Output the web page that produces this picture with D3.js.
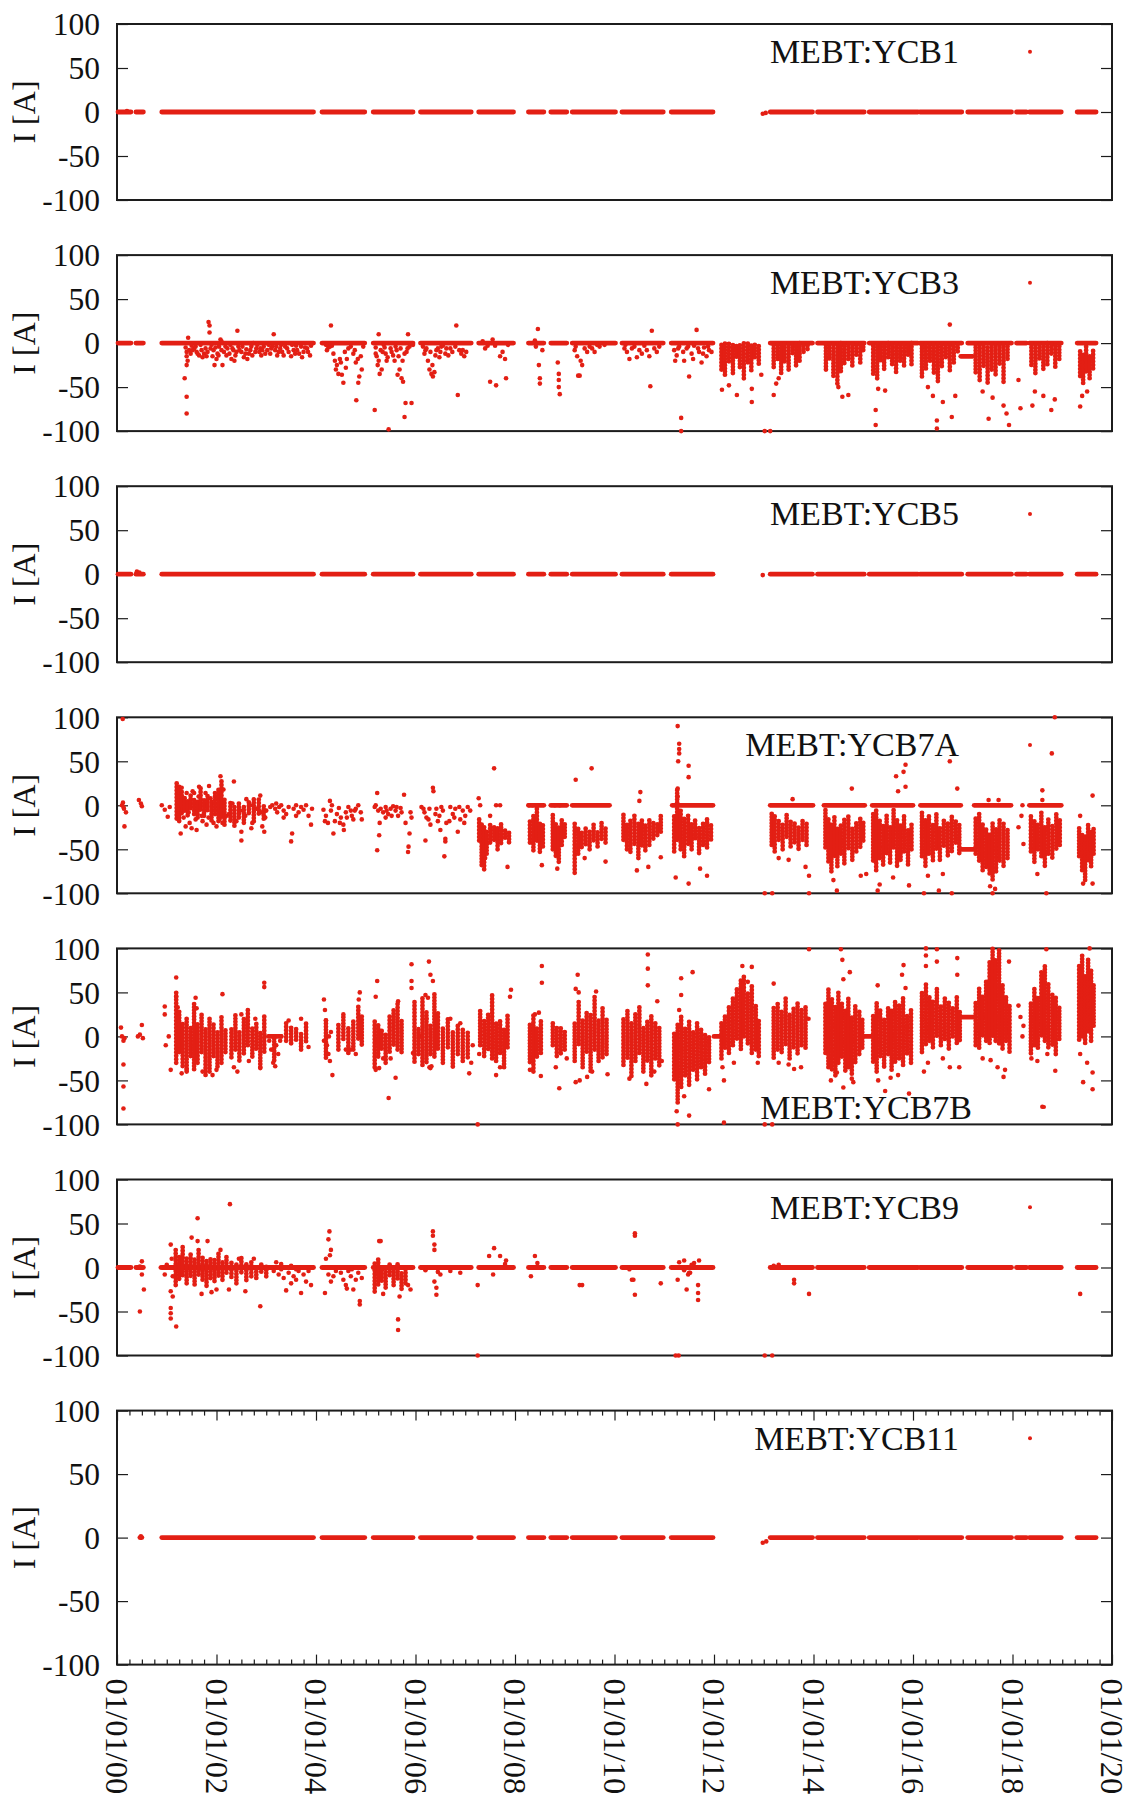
<!DOCTYPE html>
<html>
<head>
<meta charset="utf-8">
<script src="https://cdn.jsdelivr.net/npm/d3@7"></script>
<style>
  html, body { margin: 0; padding: 0; background: #fff; }
  svg { display: block; }
</style>
</head>
<body>
<svg id="chart" width="1131" height="1804"></svg>
<script>
// Corrector magnet readbacks, 2000-2020. Times are years after 2000-01-01, currents in A.

const tickLabels = ["01/01/00", "01/01/02", "01/01/04", "01/01/06", "01/01/08", "01/01/10",
                    "01/01/12", "01/01/14", "01/01/16", "01/01/18", "01/01/20"];
const yTicks = [100, 50, 0, -50, -100];
const channels = ["MEBT:YCB1", "MEBT:YCB3", "MEBT:YCB5", "MEBT:YCB7A", "MEBT:YCB7B", "MEBT:YCB9", "MEBT:YCB11"];

// Running periods where the readback sits flat at 0 A: [start, end]
const baseRuns = [[0.02,0.28],[0.38,0.53],[0.9,3.95],[4.12,4.98],[5.15,5.95],[6.1,7.12],[7.27,7.97],
  [8.27,8.58],[8.72,9.04],[9.15,10.02],[10.15,10.98],[11.14,11.98],[13.13,13.98],[14.08,15.02],
  [15.12,16.1],[16.14,16.98],[17.1,17.98],[18.08,18.28],[18.34,18.98],[19.3,19.68]];
const ycb11Runs = [[0.46,0.5],[0.9,3.95],[4.12,4.98],[5.15,5.95],[6.1,7.12],[7.27,7.97],
  [8.27,8.58],[8.72,9.04],[9.15,10.02],[10.15,10.98],[11.14,11.98],[13.13,13.98],[14.08,15.02],
  [15.12,16.1],[16.14,16.98],[17.1,17.98],[18.08,18.28],[18.34,18.98],[19.3,19.68]];
// Flat stretches at a given level: [start, end, current]
const ycb3Flat = [[16.96,17.2,-15]];
const ycb7aFlat = [[8.27,8.58,0],[8.72,9.04,0],[9.15,9.9,0],[11.16,11.98,0],[13.13,13.99,0],
  [14.21,15.03,0],[15.18,16.0,0],[16.15,16.96,0],[16.96,17.22,-50],[17.23,17.97,0],[18.34,18.98,0]];
const ycb7bFlat = [[12.0,12.15,0],[14.95,15.2,0],[16.96,17.22,22],[3.04,3.3,0]];

// Dense stretches: [time, lowest, highest] of the overlapping samples
const ycb3Bands = [
  [12.15,-30,0],[12.22,-38,0],[12.3,-22,0],[12.38,-34,0],[12.45,-18,0],[12.52,-28,0],[12.6,-40,0],[12.68,-24,0],[12.75,-32,0],[12.82,-16,0],[12.9,-26,0],
  [13.2,-28,0],[13.28,-18,0],[13.35,-36,0],[13.42,-22,0],[13.5,-30,0],[13.58,-14,0],[13.65,-26,0],[13.72,-20,0],[13.8,-12,0],[13.88,-8,0],
  [14.25,-30,0],[14.32,-20,0],[14.4,-38,0],[14.48,-46,0],[14.55,-34,0],[14.62,-24,0],[14.7,-18,0],[14.78,-28,0],[14.86,-14,0],[14.94,-22,0],[15.0,-10,0],
  [15.2,-36,0],[15.28,-40,0],[15.35,-22,0],[15.42,-30,0],[15.5,-16,0],[15.58,-26,0],[15.66,-34,0],[15.74,-20,0],[15.82,-28,0],[15.9,-14,0],[15.97,-24,0],
  [16.18,-40,0],[16.26,-30,0],[16.34,-20,0],[16.42,-36,0],[16.5,-44,0],[16.58,-26,0],[16.66,-18,0],[16.74,-32,0],[16.82,-22,0],[16.9,-12,0],
  [17.26,-34,0],[17.34,-42,0],[17.42,-28,0],[17.5,-46,-4],[17.58,-30,0],[17.66,-38,0],[17.74,-24,0],[17.82,-44,0],[17.9,-20,0],
  [18.38,-26,0],[18.46,-34,0],[18.54,-20,0],[18.62,-30,0],[18.7,-24,0],[18.78,-14,0],[18.86,-28,0],[18.94,-18,0],
  [19.36,-40,-6],[19.42,-46,-10],[19.48,-32,-4],[19.55,-42,-14],[19.62,-30,-8]
];
const ycb7aBands = [
  [1.2,-15,28],[1.25,-20,24],[1.3,-10,16],[1.36,-6,10],[1.42,-14,6],[1.48,-4,12],[1.55,-10,8],[1.62,-16,6],[1.68,-6,20],[1.75,-12,8],[1.82,-8,12],[1.9,-18,4],[1.97,-10,16],[2.04,-20,20],[2.1,-14,30],[2.16,-22,8],
  [2.28,-20,6],[2.36,-24,0],[2.45,-14,4],[2.55,-22,-2],[2.65,-10,6],[2.75,-18,10],[2.85,-12,8],[2.95,-16,2],
  [7.28,-40,-15],[7.33,-70,-20],[7.38,-74,-25],[7.43,-55,-30],[7.5,-45,-20],[7.58,-40,-25],[7.65,-50,-25],[7.72,-45,-20],[7.8,-38,-28],[7.88,-42,-30],
  [8.3,-45,-15],[8.37,-52,-10],[8.44,-40,0],[8.5,-55,-20],[8.56,-48,-22],
  [8.76,-50,-10],[8.82,-60,-20],[8.88,-65,-25],[8.94,-45,-15],[9.0,-38,-20],
  [9.2,-78,-20],[9.27,-55,-25],[9.34,-50,-30],[9.42,-45,-25],[9.5,-50,-30],[9.58,-42,-22],[9.66,-48,-28],[9.74,-38,-20],[9.82,-45,-25],
  [10.18,-40,-10],[10.25,-50,-20],[10.32,-55,-15],[10.4,-45,-10],[10.48,-60,-20],[10.55,-48,-15],[10.62,-52,-22],[10.7,-45,-15],[10.78,-40,-20],[10.86,-35,-18],[10.93,-30,-12],
  [11.2,-55,-10],[11.26,-40,20],[11.33,-50,-5],[11.4,-60,-15],[11.48,-45,-10],[11.55,-50,-20],[11.62,-40,-15],[11.7,-55,-25],[11.78,-45,-20],[11.86,-50,-15],[11.94,-40,-20],
  [13.16,-45,-8],[13.22,-55,-10],[13.3,-40,-15],[13.38,-50,-20],[13.46,-38,-10],[13.54,-48,-15],[13.62,-42,-20],[13.7,-52,-25],[13.78,-40,-15],[13.86,-45,-20],
  [14.24,-50,-5],[14.3,-65,-15],[14.36,-75,-20],[14.42,-60,-10],[14.48,-70,-25],[14.55,-55,-20],[14.62,-68,-15],[14.7,-50,-10],[14.78,-62,-25],[14.86,-55,-20],[14.94,-48,-15],[15.0,-40,-20],
  [15.2,-65,-10],[15.26,-75,-5],[15.33,-60,-15],[15.4,-70,-20],[15.47,-55,-10],[15.54,-65,-25],[15.61,-50,-5],[15.68,-70,-15],[15.75,-62,-20],[15.82,-55,-10],[15.9,-68,-25],[15.97,-50,-20],
  [16.18,-60,-5],[16.25,-70,-15],[16.32,-55,-10],[16.4,-65,-20],[16.47,-50,-10],[16.54,-62,-25],[16.62,-48,-15],[16.7,-58,-20],[16.78,-52,-10],[16.86,-45,-15],[16.93,-55,-20],
  [17.26,-55,-15],[17.33,-65,-10],[17.4,-75,-20],[17.47,-70,-25],[17.54,-80,-30],[17.6,-85,-20],[17.67,-75,-25],[17.74,-65,-15],[17.82,-70,-20],[17.9,-60,-25],
  [18.37,-55,-10],[18.44,-65,-15],[18.51,-50,-20],[18.58,-60,-5],[18.65,-70,-25],[18.72,-55,-15],[18.8,-62,-20],[18.88,-50,-10],[18.95,-45,-15],
  [19.34,-60,-25],[19.4,-75,-30],[19.46,-85,-35],[19.52,-65,-20],[19.58,-70,-30],[19.63,-55,-25]
];
const ycb7bBands = [
  [1.19,-30,50],[1.25,-20,30],[1.32,-35,15],[1.4,-40,20],[1.48,-25,10],[1.55,-38,40],[1.62,-30,15],[1.7,-20,25],[1.78,-45,10],[1.86,-40,20],[1.94,-25,15],[2.02,-35,5],[2.1,-30,25],[2.18,-20,10],
  [2.3,-25,10],[2.38,-15,25],[2.46,-30,5],[2.55,-20,20],[2.63,-10,32],[2.72,-25,10],[2.8,-15,15],[2.88,-35,5],[2.96,-20,25],
  [3.16,-28,-2],[3.4,-5,15],[3.5,-10,10],[3.6,-5,12],[3.7,-15,5],[3.8,-8,18],[4.2,-25,20],
  [4.45,-15,15],[4.55,-5,25],[4.65,-20,10],[4.75,-15,20],[4.85,-5,35],[4.92,-10,25],
  [5.18,-35,20],[5.25,-25,15],[5.32,-15,10],[5.4,-30,5],[5.48,-20,25],[5.56,-10,30],[5.64,-15,40],[5.72,-20,20],
  [5.98,-30,40],[6.06,-20,10],[6.14,-35,45],[6.22,-30,30],[6.3,-20,15],[6.38,-25,48],[6.45,-15,30],
  [6.55,-30,10],[6.65,-15,20],[6.75,-35,5],[6.85,-20,15],[6.95,-30,10],[7.05,-25,5],
  [7.3,-10,30],[7.38,-25,20],[7.46,-15,25],[7.54,-25,47],[7.62,-30,15],[7.7,-20,20],[7.78,-35,10],[7.85,-15,25],
  [8.3,-30,15],[8.37,-40,25],[8.44,-25,10],[8.52,-20,20],
  [8.76,-10,15],[8.84,-25,10],[8.92,-20,12],[9.0,-15,8],
  [9.2,-30,15],[9.28,-10,40],[9.36,-35,20],[9.44,-20,30],[9.52,-40,25],[9.6,-15,45],[9.68,-30,20],[9.76,-25,35],[9.84,-20,20],
  [10.18,-35,20],[10.26,-25,30],[10.34,-45,15],[10.42,-30,25],[10.5,-20,35],[10.58,-40,10],[10.66,-30,20],[10.74,-45,25],[10.82,-25,15],[10.9,-35,10],
  [11.2,-50,5],[11.27,-75,15],[11.34,-60,25],[11.42,-45,10],[11.5,-55,20],[11.58,-40,5],[11.66,-50,15],[11.74,-35,10],[11.82,-45,5],[11.9,-30,0],
  [12.15,-25,15],[12.22,-15,25],[12.3,-20,35],[12.38,-10,45],[12.46,-5,55],[12.54,-15,65],[12.6,0,70],[12.68,-10,50],[12.76,-20,60],[12.84,-15,35],[12.9,-25,20],
  [13.2,-25,35],[13.28,-15,40],[13.36,-20,30],[13.44,-10,45],[13.52,-25,25],[13.6,-15,35],[13.68,-20,40],[13.76,-10,30],[13.84,-15,35],
  [14.24,-20,40],[14.3,-35,55],[14.37,-40,45],[14.44,-45,35],[14.5,-30,50],[14.57,-25,40],[14.64,-40,30],[14.7,-35,45],[14.77,-45,25],[14.84,-30,35],[14.92,-20,30],[14.98,-15,20],
  [15.2,-30,25],[15.27,-40,40],[15.34,-25,30],[15.42,-35,20],[15.5,-20,35],[15.57,-40,30],[15.64,-30,40],[15.72,-25,35],[15.8,-35,45],[15.88,-20,25],[15.96,-30,30],
  [16.18,-20,50],[16.26,-10,60],[16.33,-5,45],[16.4,-15,40],[16.48,0,55],[16.56,-10,35],[16.64,-5,45],[16.72,-15,40],[16.8,0,35],[16.88,-10,45],[16.94,-5,30],
  [17.26,-10,40],[17.33,-15,55],[17.4,0,45],[17.47,-5,65],[17.54,-10,85],[17.6,0,100],[17.66,-5,90],[17.73,-10,100],[17.8,-15,60],[17.87,-5,45],[17.94,-20,35],
  [18.37,-20,40],[18.44,-10,55],[18.51,-15,45],[18.58,0,75],[18.65,-5,80],[18.72,-15,60],[18.8,-10,50],[18.87,-20,45],[18.94,-5,35],
  [19.34,-5,80],[19.4,0,95],[19.46,-10,70],[19.52,5,90],[19.58,-5,75],[19.63,10,60]
];
const ycb9Bands = [
  [1.18,-20,20],[1.25,-15,15],[1.32,-10,25],[1.4,-18,12],[1.48,-12,18],[1.56,-20,10],[1.64,-8,22],[1.72,-16,14],[1.8,-22,8],[1.88,-12,12],[1.96,-18,10],[2.04,-10,16],[2.12,-14,8],[2.2,-8,12],
  [2.3,-12,8],[2.4,-18,6],[2.5,-8,12],[2.6,-15,4],[2.7,-10,8],[2.8,-14,2],[2.9,-6,6],[3.0,-10,4],
  [5.18,-30,5],[5.25,-20,10],[5.32,-15,0],[5.4,-25,-5],[5.48,-10,5],[5.56,-20,0],[5.64,-15,5],[5.72,-25,-5],[5.8,-18,0]
];

// Individual samples: [time, current]
const ycb1Dots = [[12.98,-2],[13.04,-1],[0.2,1]];
const ycb5Dots = [[0.4,3],[0.45,2],[12.98,-1]];
const ycb11Dots = [[12.98,-4],[13.05,-3],[0.48,1]];
const ycb3Dots = [
  [1.38,-5],[1.4,-10],[1.4,-15],[1.42,-20],[1.4,-25],[1.36,-40],[1.4,-61],[1.4,-80],[1.43,6],[1.45,-8],[1.48,-12],[1.5,-3],
  [1.55,-6],[1.6,-10],[1.65,-14],[1.7,-8],[1.75,-12],[1.8,-15],[1.84,24],[1.86,20],[1.86,12],[1.88,-6],[1.92,-15],[1.96,-25],[2.0,-18],[2.02,-12],[2.05,-4],[2.08,4],[2.1,2],[2.12,-25],[2.15,-10],
  [2.22,-6],[2.26,-12],[2.3,-18],[2.34,-8],[2.38,-14],[2.42,14],[2.44,-4],[2.5,-10],[2.55,-16],[2.6,-7],[2.65,-12],[2.7,-4],[2.74,0],[2.8,-6],[2.86,-10],[2.9,-14],[2.95,-4],
  [3.05,-2],[3.1,-6],[3.15,10],[3.2,-4],[3.25,-10],[3.3,-2],[3.35,-14],[3.42,-6],[3.5,-15],[3.55,-8],[3.6,-3],[3.66,-12],[3.72,-16],[3.78,-5],[3.84,-10],[3.9,-3],
  [1.52,-8],[1.58,-4],[1.62,-12],[1.68,-2],[1.72,-16],[1.78,-6],[1.82,-10],[1.9,-2],[1.94,-8],[1.98,-5],[2.04,-14],[2.1,-8],[2.18,-4],[2.2,-14],[2.28,-2],[2.32,-6],[2.36,-20],[2.4,-10],[2.46,-8],[2.52,-4],[2.58,-12],[2.62,-18],[2.68,-8],[2.72,-14],[2.78,-10],[2.82,-2],[2.88,-6],[2.92,-8],[2.98,-12],
  [3.02,-8],[3.08,-12],[3.12,-4],[3.18,-8],[3.22,-14],[3.28,-6],[3.32,-10],[3.38,-4],[3.45,-10],[3.52,-2],[3.58,-12],[3.62,-8],[3.7,-4],[3.75,-10],[3.82,-6],[3.88,-14],
  [4.2,-2],[4.25,-5],[4.3,20],[4.32,-3],[4.38,-20],[4.42,-25],[4.45,-35],[4.5,-22],[4.55,-45],[4.6,-28],[4.62,-18],[4.7,-4],[4.75,-12],[4.8,-22],[4.81,-65],[4.85,-45],[4.87,-38],[4.9,-15],[4.92,-30],
  [4.22,-8],[4.28,-4],[4.35,-12],[4.4,-30],[4.48,-18],[4.52,-36],[4.58,-10],[4.65,-6],[4.78,-8],[4.84,-18],[4.95,-4],
  [5.18,-76],[5.2,-5],[5.22,-15],[5.24,-25],[5.26,10],[5.3,-8],[5.32,-30],[5.36,-2],[5.4,-12],[5.42,-20],[5.46,-98],[5.5,-6],[5.55,-14],[5.6,-4],[5.64,-36],[5.68,-30],[5.72,-40],[5.75,-44],[5.78,-84],[5.8,-68],[5.82,-10],[5.85,10],[5.88,-4],[5.92,-68],[5.95,-2],
  [5.2,-12],[5.26,-20],[5.28,-35],[5.34,-10],[5.38,-5],[5.44,-16],[5.52,-10],[5.58,-20],[5.62,-8],[5.66,-15],[5.7,-6],[5.74,-20],[5.78,-12],[5.84,-6],
  [6.15,-4],[6.2,-8],[6.25,-20],[6.28,-30],[6.32,-35],[6.35,-38],[6.38,-33],[6.4,-14],[6.45,-6],[6.5,-10],[6.55,-3],[6.6,-12],[6.7,-6],[6.82,20],[6.85,-59],[6.88,-8],[6.92,-12],[6.98,-15],
  [6.18,-12],[6.22,-6],[6.3,-10],[6.34,-25],[6.42,-8],[6.48,-16],[6.52,-4],[6.62,-6],[6.66,-14],[6.74,-10],[6.8,-4],[6.95,-8],[7.02,-10],
  [7.35,2],[7.45,-3],[7.5,-44],[7.55,4],[7.62,-48],[7.7,-15],[7.75,-10],[7.82,-40],[7.86,-2],[7.4,-6],[7.6,-3],[7.8,-18],
  [8.4,3],[8.46,16],[8.48,-25],[8.5,-40],[8.5,-46],[8.42,-4],[8.55,-8],
  [8.86,-22],[8.88,-35],[8.88,-42],[8.88,-50],[8.9,-58],
  [9.2,-8],[9.25,-15],[9.27,-37],[9.3,-37],[9.32,-20],[9.4,-6],[9.5,-4],[9.6,-10],[9.7,-4],[9.8,-2],[9.22,-4],[9.35,-25],[9.45,-10],[9.55,-6],[9.65,-2],
  [10.2,-6],[10.25,-10],[10.3,-18],[10.4,-4],[10.5,-8],[10.55,-12],[10.6,-3],[10.7,-15],[10.72,-49],[10.75,14],[10.8,-6],[10.9,-4],[10.22,-2],[10.35,-6],[10.45,-16],[10.65,-8],[10.85,-10],
  [11.2,-8],[11.25,-14],[11.3,-4],[11.34,-85],[11.34,-100],[11.4,-20],[11.45,-6],[11.5,-38],[11.55,-12],[11.6,-3],[11.65,15],[11.7,-10],[11.75,-22],[11.8,-5],[11.85,-15],[11.9,-8],
  [11.22,-20],[11.28,-6],[11.38,-10],[11.48,-4],[11.58,-18],[11.68,-6],[11.78,-12],[11.88,-4],[11.95,-10],
  [12.16,-53],[12.3,-48],[12.46,-59],[12.76,-52],[12.76,-67],[12.95,-36],[13.02,-100],[13.13,-100],[13.2,-59],[13.25,-46],[13.3,-40],
  [14.58,-61],[14.7,-59],[14.5,-50],[15.25,-76],[15.25,-93],[15.3,-52],[15.44,-54],
  [16.3,-50],[16.4,-60],[16.48,-88],[16.48,-97],[16.6,-67],[16.74,21],[16.78,-84],[16.85,-60],
  [17.4,-55],[17.52,-86],[17.6,-62],[17.82,-71],[17.88,-80],[17.93,-93],[18.12,-42],[18.16,-74],
  [18.4,-71],[18.45,-55],[18.62,-60],[18.78,-76],[18.85,-64],[19.36,-72],[19.4,-60],[19.5,-55]
];
const ycb7aDots = [
  [0.1,0],[0.12,3],[0.14,-4],[0.13,-2],[0.15,-24],[0.115,98],[0.18,-8],[0.44,6],[0.5,-1],[0.48,2],
  [0.9,0],[0.96,-5],[1.02,-13],[1.06,-2],
  [1.28,-32],[1.38,-24],[1.46,-20],[1.5,-26],[1.65,21],[1.6,-28],[1.85,22],[1.8,-22],[2.08,33],[2.0,-24],[2.12,-20],[2.35,27],[1.55,14],[1.72,-18],
  [1.22,10],[1.24,-5],[1.3,20],[1.34,-14],[1.4,14],[1.44,-8],[1.52,16],[1.58,-16],[1.64,10],[1.7,-12],[1.78,14],[1.84,-14],[1.88,8],[1.94,-20],[2.02,10],[2.06,-16],[2.14,18],[2.2,-12],
  [2.5,-40],[2.5,-30],[2.6,7],[2.88,11],[2.96,-30],[2.92,-24],[3.0,-6],[2.7,-26],
  [2.25,-10],[2.32,2],[2.4,-18],[2.48,-6],[2.58,-12],[2.68,0],[2.72,-20],[2.8,-4],[2.9,-8],[2.98,-14],
  [3.08,-2],[3.12,0],[3.18,-4],[3.22,-8],[3.26,-2],[3.3,0],[3.35,-6],[3.4,-10],[3.45,-2],[3.5,-41],[3.52,-32],[3.55,-4],[3.6,0],[3.65,-8],[3.7,-2],[3.75,-5],[3.8,0],[3.85,-12],[3.9,-22],[3.92,-4],[3.35,-14],[3.6,-12],[3.2,2],
  [4.15,-5],[4.2,-12],[4.24,-20],[4.28,5],[4.3,-6],[4.35,-32],[4.38,-18],[4.42,-10],[4.46,-3],[4.5,-14],[4.55,-22],[4.6,-8],[4.65,-2],[4.7,-6],[4.75,-16],[4.8,-4],[4.85,0],[4.9,-8],[4.56,-28],[4.72,-12],
  [4.18,-18],[4.32,0],[4.48,-20],[4.62,-14],[4.78,-6],[4.92,-16],
  [5.18,-2],[5.2,0],[5.23,14],[5.25,-6],[5.23,-51],[5.27,-34],[5.3,-4],[5.35,-8],[5.4,-2],[5.45,-10],[5.5,-4],[5.55,-1],[5.6,-6],[5.65,-12],[5.7,-3],[5.77,12],[5.8,-20],[5.85,-53],[5.86,-47],[5.88,-32],[5.9,-8],[5.4,-14],
  [5.28,-20],[5.42,-6],[5.52,-12],[5.62,-2],[5.72,-8],[5.92,-14],
  [6.12,-2],[6.18,-8],[6.22,-14],[6.28,-4],[6.35,20],[6.36,16],[6.3,-22],[6.4,-10],[6.45,-18],[6.5,-28],[6.55,-6],[6.58,-58],[6.6,-41],[6.6,-38],[6.62,-20],[6.2,-40],
  [6.16,-4],[6.26,-16],[6.42,-4],[6.48,-12],[6.52,-2],[6.68,-18],[6.78,-14],[6.88,-2],[6.98,-20],[7.1,-6],
  [6.7,-2],[6.75,-10],[6.8,-4],[6.85,-30],[6.9,-16],[6.95,-6],[7.0,-12],[7.05,-2],
  [7.27,8],[7.3,0],[7.58,42],[7.62,0],[7.85,-70],[7.7,0],[7.4,-60],[7.5,-12],
  [8.54,-68],[8.28,0],[8.35,0],[8.45,0],[8.8,0],[8.9,0],[8.85,-72],
  [9.22,29],[9.54,42],[9.82,-64],[9.4,-60],
  [10.45,-74],[10.68,-70],[10.93,-59],[10.52,15],[10.5,5],
  [11.27,90],[11.3,70],[11.3,64],[11.3,59],[11.28,50],[11.49,32],[11.49,45],[11.27,19],[11.27,10],[11.23,-82],[11.49,-89],[11.72,-72],[11.86,-80],
  [13.02,-100],[13.17,-100],[13.58,7],[13.91,-100],[13.91,-80],[13.84,-70],[13.3,-60],[13.5,-62],
  [14.77,19],[14.47,-97],[14.95,-80],[15.06,-78],[14.4,-85],
  [15.66,33],[15.85,46],[15.85,21],[15.81,38],[15.29,-97],[15.33,-90],[15.92,-91],[15.6,-82],[15.7,16],
  [16.74,50],[16.89,19],[16.22,-100],[16.52,-97],[16.78,-100],[16.3,-80],[16.6,-78],
  [17.6,-100],[17.72,6],[17.52,6],[17.65,-95],[17.55,-92],
  [18.12,-25],[18.2,0],[18.22,-44],[18.18,-12],
  [18.6,17],[18.6,6],[18.68,-100],[18.79,59],[18.85,100],[18.5,-78],
  [19.61,11],[19.61,-89],[19.42,-89],[19.36,-12]
];
const ycb7bDots = [
  [0.08,10],[0.1,0],[0.13,-5],[0.13,-32],[0.13,-57],[0.13,-82],[0.15,-2],[0.42,0],[0.5,13],[0.46,2],[0.52,-2],
  [1.19,67],[1.19,45],[1.58,44],[1.6,32],[2.12,48],[1.92,-44],[1.4,-38],[1.72,-40],[2.0,-38],[1.3,-42],[1.22,33],[0.96,34],[0.96,25],[1.04,0],[1.08,-38],[0.98,-10],
  [2.96,61],[2.96,56],[2.42,-40],[2.35,-35],[2.88,-36],[2.65,-28],[2.5,25],[2.78,20],
  [3.06,-5],[3.1,-15],[3.14,-30],[3.18,-34],[3.2,-10],[3.24,-20],[3.28,-5],[3.3,0],
  [3.45,18],[3.7,20],[3.85,-12],
  [4.16,42],[4.18,30],[4.2,18],[4.16,-5],[4.22,-10],[4.25,-20],[4.28,-28],[4.33,-44],[4.3,5],[4.26,0],
  [4.88,50],[4.86,42],[4.6,-15],[4.7,-15],[4.55,25],[4.8,-20],
  [5.23,63],[5.2,45],[5.46,-70],[5.65,40],[5.6,-47],[5.27,-36],[5.35,-25],[5.5,-25],[5.2,-38],
  [5.92,82],[5.92,63],[5.92,55],[6.27,85],[6.3,70],[6.35,63],[6.2,47],[6.25,44],[6.22,20],[6.28,-35],[6.3,-36],[6.32,-34],[5.95,-19],[6.1,0],
  [7.08,-42],[6.7,20],[6.9,15],[7.12,-30],[7.15,-10],
  [7.92,53],[7.9,45],[7.62,-44],[7.7,-35],[7.28,-20],[7.25,-100],
  [8.54,80],[8.54,61],[8.52,-45],[8.3,-38],[8.4,25],[8.48,27],
  [8.89,-59],[8.82,-35],[9.04,-25],
  [9.26,70],[9.22,54],[9.28,50],[9.63,51],[9.22,-52],[9.45,-46],[9.86,-43],[9.3,-50],[9.55,-40],
  [10.67,93],[10.67,77],[10.67,58],[10.64,-54],[10.86,40],[10.3,-48],[10.8,-40],[10.95,-28],
  [11.27,-100],[11.5,-90],[11.57,73],[11.34,66],[11.34,47],[11.9,-60],[11.25,-85],[11.4,-68],[11.3,30],
  [12.2,-98],[12.2,-50],[12.17,-35],[12.57,80],[12.76,79],[12.68,62],[13.02,-100],[13.17,-100],[12.4,-30],[12.88,-30],
  [13.2,60],[13.61,-37],[13.75,-35],[13.91,99],[13.3,-30],[13.5,-32],[13.9,20],
  [14.58,87],[14.55,99],[14.73,73],[14.6,65],[14.47,-41],[14.8,-52],[14.77,-48],[14.6,-58],[14.35,-50],
  [15.29,58],[15.44,-62],[15.92,-65],[15.81,81],[15.78,70],[15.7,-44],[15.55,-47],[15.3,-50],[15.85,55],
  [16.26,100],[16.26,92],[16.26,80],[16.48,99],[16.48,85],[16.89,89],[16.89,70],[16.74,-35],[16.93,-35],[16.3,-30],[16.22,-40],[16.6,-25],
  [17.93,85],[17.82,-46],[17.56,-27],[17.7,-35],[17.4,-25],[17.85,-38],
  [18.12,35],[18.16,22],[18.22,12],[18.2,0],
  [18.68,99],[18.6,-80],[18.86,-39],[18.38,-25],[18.7,-20],[18.5,-28],
  [19.42,-52],[19.61,-60],[19.61,-41],[19.36,-20],[19.55,100],[19.5,-30]
];
const ycb9Dots = [
  [0.46,1],[0.46,-50],[0.5,-8],[0.54,-25],[0.5,7],[0.88,0],[0.96,-8],[1.0,3],
  [1.08,-46],[1.08,-52],[1.08,-58],[1.19,-67],[1.08,26],[1.08,-27],[1.12,-33],[1.1,10],[1.12,-10],
  [1.62,56],[2.27,72],[1.5,34],[1.62,30],[1.82,30],[2.08,20],[1.9,-28],[2.0,-25],[2.25,-25],[1.7,-30],
  [2.88,-44],[2.58,-27],[2.45,10],[2.75,10],
  [3.1,0],[3.15,-4],[3.2,6],[3.25,-8],[3.3,-2],[3.35,-12],[3.4,-26],[3.45,-6],[3.5,2],[3.55,-10],[3.6,-14],[3.65,-4],[3.7,-29],[3.75,-8],[3.8,-16],[3.85,-4],[3.9,-20],[3.3,4],[3.6,-2],[3.5,-18],
  [4.27,41],[4.25,32],[4.2,10],[4.22,0],[4.25,-8],[4.3,-16],[4.18,-29],[4.3,20],[4.35,-10],[4.4,-4],[4.28,14],
  [4.5,-6],[4.55,-14],[4.6,-20],[4.65,-4],[4.7,-10],[4.75,-25],[4.8,-14],[4.85,-6],[4.88,-38],[4.88,-42],[4.92,-12],[4.62,-24],[4.72,-2],
  [5.27,30],[5.3,30],[5.65,-59],[5.65,-71],[5.68,-33],[5.9,-25],[5.85,-20],[5.35,-30],
  [6.35,41],[6.35,36],[6.38,26],[6.38,20],[6.42,-31],[6.42,-23],[6.38,-16],[6.45,-5],[6.5,-8],[6.7,-4],[6.9,-6],[6.2,-3],
  [7.58,22],[7.48,13],[7.56,-8],[7.25,-20],[7.7,13],[7.82,8],[7.8,4],[7.25,-100],
  [8.4,13],[8.32,-10],[8.45,5],
  [9.3,-20],[9.35,-20],
  [10.41,39],[10.41,36],[10.35,-14],[10.38,-14],[10.41,-31],[10.93,-18],[10.3,-2],
  [11.27,-14],[11.45,-25],[11.48,-8],[11.5,-6],[11.52,-6],[11.68,-29],[11.68,-37],[11.68,-20],[11.3,6],[11.4,8],[11.6,5],[11.7,8],[11.23,-100],[11.29,-100],[11.4,-3],[11.55,3],
  [13.02,-100],[13.17,-100],[13.61,-18],[13.61,-14],[13.91,-30],[13.3,3],[13.2,2],
  [19.36,-30]
];

// ---- layout ----
const left = 117, right = 1112;
const panelPitch = 231.1, firstTop = 24;
const red = "#e31f14", ink = "#1c1c1c";
const serif = "'Liberation Serif', 'Times New Roman', serif";

const svg = d3.select("#chart");
const x = d3.scaleLinear().domain([2000, 2020]).range([left, right]);
const zeroRuns = runs => runs.map(r => [r[0], r[1], 0]);

const panels = [
  { name: channels[0], runs: zeroRuns(baseRuns), bands: [], dots: ycb1Dots, keyBottom: false },
  { name: channels[1], runs: zeroRuns(baseRuns).concat(ycb3Flat), bands: ycb3Bands, dots: ycb3Dots, keyBottom: false },
  { name: channels[2], runs: zeroRuns(baseRuns), bands: [], dots: ycb5Dots, keyBottom: false },
  { name: channels[3], runs: ycb7aFlat, bands: ycb7aBands, dots: ycb7aDots, keyBottom: false },
  { name: channels[4], runs: ycb7bFlat, bands: ycb7bBands, dots: ycb7bDots, keyBottom: true },
  { name: channels[5], runs: zeroRuns(baseRuns), bands: ycb9Bands, dots: ycb9Dots, keyBottom: false },
  { name: channels[6], runs: zeroRuns(ycb11Runs), bands: [], dots: ycb11Dots, keyBottom: false }
];

panels.forEach((p, i) => {
  const top = firstTop + panelPitch * i;
  const h = i === panels.length - 1 ? 254 : 176;
  const bottom = top + h;
  const y = d3.scaleLinear().domain([-100, 100]).range([bottom, top]);
  const g = svg.append("g").attr("class", "panel");

  // y axis, ticks pointing inward on both sides
  const yl = g.append("g").attr("transform", `translate(${left},0)`)
    .call(d3.axisLeft(y).tickValues(yTicks).tickSize(-11).tickPadding(17).tickFormat(d => String(d)));
  const yr = g.append("g").attr("transform", `translate(${right},0)`)
    .call(d3.axisRight(y).tickValues(yTicks).tickSize(-11).tickFormat(""));
  [yl, yr].forEach(a => {
    a.select(".domain").remove();
    a.selectAll("line").attr("stroke", ink).attr("stroke-width", 1.2);
  });
  yl.attr("font-family", serif);
  yl.selectAll("text").attr("font-family", serif).attr("font-size", 31.5)
    .attr("fill", "#111").attr("dy", "0.34em");

  // time axis ticks only on the bottom panel
  if (i === panels.length - 1) {
    const major = d3.range(2000, 2020.001, 2);
    const minor = d3.range(2000, 2020.001, 0.25).filter(v => Math.abs(v / 2 - Math.round(v / 2)) > 1e-6);
    const xb = g.append("g").attr("transform", `translate(0,${bottom})`)
      .call(d3.axisBottom(x).tickValues(major).tickSize(-10).tickFormat((d, k) => tickLabels[k]));
    const xbm = g.append("g").attr("transform", `translate(0,${bottom})`)
      .call(d3.axisBottom(x).tickValues(minor).tickSize(-5).tickFormat(""));
    const xt = g.append("g").attr("transform", `translate(0,${top})`)
      .call(d3.axisTop(x).tickValues(major).tickSize(-10).tickFormat(""));
    const xtm = g.append("g").attr("transform", `translate(0,${top})`)
      .call(d3.axisTop(x).tickValues(minor).tickSize(-5).tickFormat(""));
    [xb, xbm, xt, xtm].forEach(a => {
      a.select(".domain").remove();
      a.selectAll("line").attr("stroke", ink).attr("stroke-width", 1.2);
    });
    xb.attr("font-family", serif);
    xb.selectAll("text")
      .attr("font-family", serif).attr("font-size", 32.5).attr("fill", "#111")
      .attr("text-anchor", "start")
      .attr("x", 0).attr("y", 0).attr("dy", "0.34em")
      .attr("transform", "translate(0,14) rotate(90)");
  }

  // frame
  g.append("rect").attr("x", left).attr("y", top).attr("width", right - left).attr("height", h)
    .attr("fill", "none").attr("stroke", ink).attr("stroke-width", 2);

  // y title
  g.append("text").attr("transform", `translate(35,${top + h / 2}) rotate(-90)`)
    .attr("text-anchor", "middle").attr("font-family", serif).attr("font-size", 32)
    .attr("fill", "#111").text("I [A]");

  // data
  const d = g.append("g").attr("fill", red).attr("stroke", red);
  d.selectAll("line.run").data(p.runs).join("line").attr("class", "run")
    .attr("x1", r => x(2000 + r[0])).attr("x2", r => x(2000 + r[1]))
    .attr("y1", r => y(r[2])).attr("y2", r => y(r[2]))
    .attr("stroke-width", 4.8).attr("stroke-linecap", "round");
  // dense columns drawn as stacks of round sample marks
  d.selectAll("line.band").data(p.bands).join("line").attr("class", "band")
    .attr("x1", b => x(2000 + b[0])).attr("x2", b => x(2000 + b[0]))
    .attr("y1", b => y(b[1])).attr("y2", b => y(b[2]))
    .attr("stroke-width", 4.8).attr("stroke-linecap", "round")
    .attr("stroke-dasharray", (b, k) => k % 2 ? "0 3.1" : "0 3.5")
    .attr("stroke-dashoffset", (b, k) => (k % 3) * 1.2);
  d.selectAll("circle").data(p.dots).join("circle")
    .attr("cx", s => x(2000 + s[0])).attr("cy", s => y(s[1])).attr("r", 2.3)
    .attr("stroke", "none");

  // key
  const keyTextX = p.keyBottom ? 972 : 959;
  const keyBase = p.keyBottom ? bottom - 5 : top + 39;
  const keyDotX = p.keyBottom ? 1044 : 1030;
  const keyDotY = p.keyBottom ? bottom - 17.5 : top + 27.7;
  g.append("text").attr("x", keyTextX).attr("y", keyBase).attr("text-anchor", "end")
    .attr("font-family", serif).attr("font-size", 34).attr("fill", "#111").text(p.name);
  g.append("circle").attr("cx", keyDotX).attr("cy", keyDotY).attr("r", 2).attr("fill", red);
});
</script>
</body>
</html>
